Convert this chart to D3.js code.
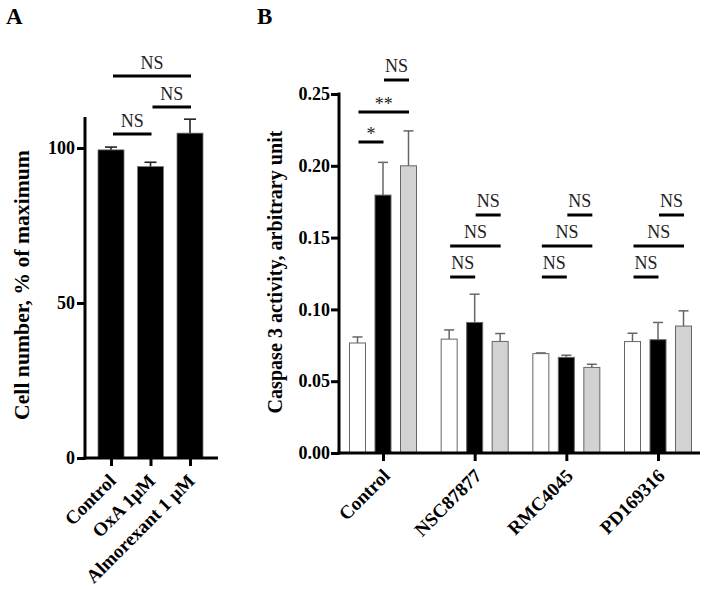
<!DOCTYPE html>
<html><head><meta charset="utf-8">
<script src="https://cdn.jsdelivr.net/npm/d3@7"></script>
<style>
html,body{margin:0;padding:0;background:#fff;}
svg{display:block;}
text{font-family:"Liberation Serif","Times New Roman",serif;}
</style></head>
<body>
<svg id="c" width="704" height="589"></svg>
<script>
// ---------- Panel A data ----------
const catsA = ["Control", "OxA 1μM", "Almorexant 1 μM"];
const valsA = [99.4, 94.0, 104.8];
const errA  = [0.9, 1.4, 4.5];
const ticksA = [0, 50, 100];
const sigA = [ // [from index, to index, level, label]
  [0, 2, 2, "NS"],
  [1, 2, 1, "NS"],
  [0, 1, 0, "NS"]
];

// ---------- Panel B data ----------
const groupsB = ["Control", "NSC87877", "RMC4045", "PD169316"];
const seriesB = ["white", "black", "gray"];
const valsWhite = [0.0766, 0.0793, 0.0692, 0.0776];
const valsBlack = [0.1796, 0.0909, 0.0666, 0.0789];
const valsGray  = [0.2000, 0.0777, 0.0596, 0.0884];
const errWhite  = [0.0042, 0.0064, 0.0005, 0.0058];
const errBlack  = [0.0228, 0.0197, 0.0015, 0.0120];
const errGray   = [0.0243, 0.0055, 0.0022, 0.0106];
const ticksB = [0, 0.05, 0.10, 0.15, 0.20, 0.25];
const sigB = [ // [group, from series, to series, level, label]
  [0, 1, 2, 2, "NS"], [0, 0, 2, 1, "**"], [0, 0, 1, 0, "*"],
  [1, 1, 2, 2, "NS"], [1, 0, 2, 1, "NS"], [1, 0, 1, 0, "NS"],
  [2, 1, 2, 2, "NS"], [2, 0, 2, 1, "NS"], [2, 0, 1, 0, "NS"],
  [3, 1, 2, 2, "NS"], [3, 0, 2, 1, "NS"], [3, 0, 1, 0, "NS"]
];

const svg = d3.select("#c");
const fillB = {white: "#ffffff", black: "#000000", gray: "#d2d2d2"};

function fitText(sel, target) {
  const n = sel.node();
  const fs = parseFloat(sel.attr("font-size"));
  const len = n.getComputedTextLength();
  if (len > 0) sel.attr("font-size", (fs * target / len).toFixed(2));
}

// ================= Panel A =================
const yA = d3.scaleLinear().domain([0, 110]).range([458, 117]);
const xA = d3.scalePoint().domain(catsA).range([111, 190]);
const axXA = 85, bwA = 26;

svg.append("text").attr("x", 6).attr("y", 24).attr("font-size", 23).attr("font-weight", "bold").text("A");

const gA = svg.append("g");
gA.selectAll("rect.bar").data(catsA).join("rect")
  .attr("x", d => xA(d) - bwA/2).attr("width", bwA)
  .attr("y", (d,i) => yA(valsA[i])).attr("height", (d,i) => yA(0) - yA(valsA[i]))
  .attr("fill", "#000").attr("stroke", "#777").attr("stroke-width", 0.8);
catsA.forEach((c,i) => {
  const x = xA(c), y0 = yA(valsA[i]), y1 = yA(valsA[i] + errA[i]);
  gA.append("line").attr("x1", x).attr("x2", x).attr("y1", y0).attr("y2", y1).attr("stroke", "#222").attr("stroke-width", 1.6);
  gA.append("line").attr("x1", x - 6).attr("x2", x + 6).attr("y1", y1).attr("y2", y1).attr("stroke", "#222").attr("stroke-width", 1.6);
});
const yAxisA = d3.axisLeft(yA).tickValues(ticksA).tickSize(8).tickPadding(2).tickFormat(d3.format("d"));
const gyA = gA.append("g").attr("transform", `translate(${axXA},0)`).call(yAxisA);
gyA.select(".domain").attr("stroke", "#000").attr("stroke-width", 3).attr("d", `M0,${yA(110)}V${yA(0)+1.5}`);
gyA.selectAll(".tick line").attr("stroke-width", 3);
gyA.selectAll(".tick text").attr("font-size", 18).attr("font-weight", "bold").attr("fill", "#000")
  .style("font-family", "Liberation Serif, serif");
const xAxisA = d3.axisBottom(xA).tickSize(8).tickFormat("");
const gxA = gA.append("g").attr("transform", `translate(0,${yA(0)})`).call(xAxisA);
gxA.select(".domain").attr("stroke-width", 3).attr("d", `M${axXA-1.5},0H218`);
gxA.selectAll(".tick line").attr("stroke-width", 3);
catsA.forEach(c => {
  gA.append("text").attr("transform", `translate(${xA(c)+6},${yA(0)+24}) rotate(-45)`)
    .attr("text-anchor", "end").attr("font-size", 19).attr("font-weight", "bold").text(c);
});
const labA = gA.append("text").attr("transform", "translate(29,285) rotate(-90)").attr("text-anchor", "middle")
  .attr("font-size", 20).attr("font-weight", "bold").text("Cell number, % of maximum");
fitText(labA, 270);
const sigYA = [134, 107, 76];
sigA.forEach(([a, b, lvl, lab]) => {
  const x1 = xA(catsA[a]) + 2, x2 = xA(catsA[b]) + 1, y = sigYA[lvl];
  gA.append("line").attr("x1", x1).attr("x2", x2).attr("y1", y).attr("y2", y).attr("stroke", "#000").attr("stroke-width", 3);
  gA.append("text").attr("x", (x1 + x2)/2).attr("y", y - 7).attr("text-anchor", "middle")
    .attr("font-size", 18).attr("fill", "#222").text(lab);
});

// ================= Panel B =================
const yB = d3.scaleLinear().domain([0, 0.25]).range([453, 94]);
const xB = d3.scalePoint().domain(groupsB).range([383, 658]);
const xSub = d3.scalePoint().domain(seriesB).range([-25.5, 25.5]);
const axXB = 339, bwB = 16;
const valsB = {white: valsWhite, black: valsBlack, gray: valsGray};
const errsB = {white: errWhite, black: errBlack, gray: errGray};

svg.append("text").attr("x", 257).attr("y", 24).attr("font-size", 23).attr("font-weight", "bold").text("B");

const gB = svg.append("g");
seriesB.forEach(s => {
  groupsB.forEach((g, i) => {
    const cx = xB(g) + xSub(s), v = valsB[s][i], e = errsB[s][i];
    gB.append("line").attr("x1", cx).attr("x2", cx).attr("y1", yB(v)).attr("y2", yB(v + e)).attr("stroke", "#666").attr("stroke-width", 1.5);
    gB.append("line").attr("x1", cx - 5).attr("x2", cx + 5).attr("y1", yB(v + e)).attr("y2", yB(v + e)).attr("stroke", "#666").attr("stroke-width", 1.5);
    gB.append("rect").attr("x", cx - bwB/2).attr("width", bwB).attr("y", yB(v)).attr("height", yB(0) - yB(v))
      .attr("fill", fillB[s]).attr("stroke", "#666").attr("stroke-width", 1);
  });
});
const yAxisB = d3.axisLeft(yB).tickValues(ticksB).tickSize(8).tickPadding(1).tickFormat(d3.format(".2f"));
const gyB = gB.append("g").attr("transform", `translate(${axXB},0)`).call(yAxisB);
gyB.select(".domain").attr("stroke-width", 3).attr("d", `M0,${yB(0.25)-1.5}V${yB(0)+1.5}`);
gyB.selectAll(".tick line").attr("stroke-width", 3);
gyB.selectAll(".tick text").attr("font-size", 18).attr("font-weight", "bold").attr("fill", "#000")
  .style("font-family", "Liberation Serif, serif");
const xAxisB = d3.axisBottom(xB).tickSize(8).tickFormat("");
const gxB = gB.append("g").attr("transform", `translate(0,${yB(0)})`).call(xAxisB);
gxB.select(".domain").attr("stroke-width", 3).attr("d", `M${axXB-1.5},0H700`);
gxB.selectAll(".tick line").attr("stroke-width", 3);
groupsB.forEach(g => {
  gB.append("text").attr("transform", `translate(${xB(g)+8},${yB(0)+24}) rotate(-45)`)
    .attr("text-anchor", "end").attr("font-size", 19).attr("font-weight", "bold").text(g);
});
const labB = gB.append("text").attr("transform", "translate(282,272) rotate(-90)").attr("text-anchor", "middle")
  .attr("font-size", 19).attr("font-weight", "bold").text("Caspase 3 activity, arbitrary unit");
fitText(labB, 283);
const sigYB = {0: [142, 112, 80], 1: [277, 246, 215], 2: [277, 246, 215], 3: [277, 246, 215]};
sigB.forEach(([gi, a, b, lvl, lab]) => {
  const g = groupsB[gi];
  const x1 = xB(g) + xSub(seriesB[a]) + 1, x2 = xB(g) + xSub(seriesB[b]) + 0.5, y = sigYB[gi][lvl];
  gB.append("line").attr("x1", x1).attr("x2", x2).attr("y1", y).attr("y2", y).attr("stroke", "#000").attr("stroke-width", 3);
  const star = lab.indexOf("*") >= 0;
  gB.append("text").attr("x", (x1 + x2)/2).attr("y", star ? y - 2 : y - 8).attr("text-anchor", "middle")
    .attr("font-size", 18).attr("fill", "#222").text(lab);
});
</script>
</body></html>
